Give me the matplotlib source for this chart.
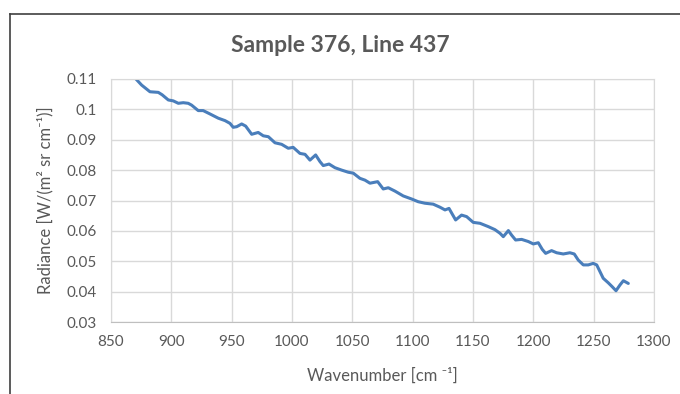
import matplotlib.pyplot as plt
from matplotlib.lines import Line2D

# values
wavenumber = [870.7, 875.4, 882.3, 889.2, 892.4, 897.5, 901.6, 905.8, 909.9, 914.0,
              916.8, 922.3, 926.4, 932.0, 938.9, 944.5, 948.6, 951.3, 954.2, 958.3,
              961.6, 966.6, 972.0, 976.2, 980.4, 985.9, 991.4, 996.9, 1001.0, 1006.6,
              1010.8, 1014.9, 1019.6, 1023.2, 1025.9, 1030.7, 1035.6, 1041.2, 1046.7, 1050.8,
              1056.3, 1060.5, 1064.6, 1071.0, 1075.6, 1079.8, 1085.3, 1092.2, 1099.1, 1104.6,
              1110.2, 1117.0, 1122.6, 1126.8, 1130.1, 1135.6, 1140.5, 1144.7, 1150.2, 1155.8,
              1162.7, 1168.2, 1172.4, 1175.1, 1179.3, 1182.0, 1185.3, 1190.3, 1195.8, 1200.0,
              1204.1, 1207.4, 1210.2, 1215.1, 1219.3, 1224.8, 1230.3, 1233.9, 1237.2, 1241.4,
              1245.5, 1249.6, 1252.5, 1255.2, 1257.9, 1262.1, 1265.4, 1268.5, 1271.8, 1274.6,
              1278.7]
radiance = [0.1100, 0.1080, 0.1058, 0.1056, 0.1048, 0.1031, 0.1028, 0.1020, 0.1022, 0.1020,
            0.1014, 0.0996, 0.0996, 0.0985, 0.0971, 0.0963, 0.0954, 0.0941, 0.0943, 0.0952,
            0.0945, 0.0918, 0.0924, 0.0913, 0.0910, 0.0890, 0.0885, 0.0872, 0.0875, 0.0855,
            0.0852, 0.0833, 0.0850, 0.0828, 0.0815, 0.0820, 0.0808, 0.0800, 0.0793, 0.0790,
            0.0773, 0.0767, 0.0757, 0.0762, 0.0738, 0.0742, 0.0731, 0.0715, 0.0705, 0.0696,
            0.0691, 0.0688, 0.0678, 0.0669, 0.0674, 0.0636, 0.0652, 0.0647, 0.0628, 0.0625,
            0.0614, 0.0604, 0.0592, 0.0581, 0.0601, 0.0586, 0.0570, 0.0572, 0.0565, 0.0557,
            0.0561, 0.0539, 0.0526, 0.0535, 0.0528, 0.0524, 0.0528, 0.0524, 0.0504, 0.0488,
            0.0488, 0.0493, 0.0488, 0.0466, 0.0444, 0.0429, 0.0416, 0.0403, 0.0422, 0.0436,
            0.0427]

x_ticks = [850, 900, 950, 1000, 1050, 1100, 1150, 1200, 1250, 1300]
y_ticks = [0.03, 0.04, 0.05, 0.06, 0.07, 0.08, 0.09, 0.1, 0.11]
y_tick_labels = ['0.03', '0.04', '0.05', '0.06', '0.07', '0.08', '0.09', '0.1', '0.11']

plt.rcParams['font.family'] = ['Lato', 'DejaVu Sans']
text_grey = '#595959'

fig = plt.figure(figsize=(6.8, 3.94), dpi=100)
ax = fig.add_axes([0.1632, 0.1827, 0.7986, 0.6168])

ax.plot(wavenumber, radiance, color='#4a7ebb', lw=2.2,
        solid_joinstyle='round', solid_capstyle='round')

ax.set_xlim(850, 1300)
ax.set_ylim(0.03, 0.11)
ax.set_xticks(x_ticks)
ax.set_yticks(y_ticks)
ax.set_yticklabels(y_tick_labels)
ax.tick_params(length=0, labelsize=11, labelcolor=text_grey)
ax.tick_params(axis='y', pad=10)
ax.tick_params(axis='x', pad=9)
ax.grid(True, color='#d9d9d9', lw=1)
ax.set_axisbelow(True)
for s in ['top', 'right', 'left']:
    ax.spines[s].set_color('#d9d9d9')
ax.spines['bottom'].set_color('#bfbfbf')

ax.set_xlabel('Wavenumber [cm \u207b\u00b9]', fontsize=12, color=text_grey, labelpad=14)
ax.set_ylabel('Radiance [W/(m\u00b2 sr cm\u207b\u00b9)]', fontsize=12, color=text_grey, labelpad=10)

fig.text(0.5, 1 - 45 / 394, 'Sample 376, Line 437', ha='center', va='center',
         fontsize=16.5, fontweight='bold', color=text_grey)

# chart frame (cropped at right and bottom)
fig.add_artist(Line2D([10 / 680, 10 / 680], [0, 1 - 14 / 394], color='#404040', lw=1.2,
                      transform=fig.transFigure))
fig.add_artist(Line2D([10 / 680, 1], [1 - 14 / 394, 1 - 14 / 394], color='#404040', lw=1.2,
                      transform=fig.transFigure))

plt.savefig('out.png')
